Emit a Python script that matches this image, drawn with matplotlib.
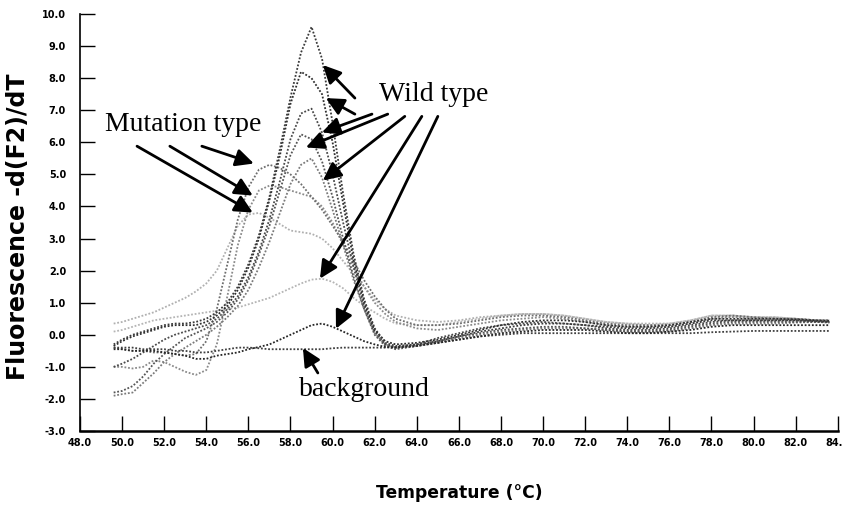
import matplotlib
matplotlib.use("Agg")
import matplotlib.pyplot as plt

# temperature grid (deg C) shared by all melting curves
temps = [49.6, 50.0, 50.5, 51.0, 51.5, 52.0, 52.5, 53.0, 53.5, 54.0,
         54.5, 55.0, 55.5, 56.0, 56.5, 57.0, 57.5, 58.0, 58.5, 59.0,
         59.5, 60.0, 60.5, 61.0, 61.5, 62.0, 62.5, 63.0, 64.0, 65.0,
         66.0, 67.0, 68.0, 69.0, 70.0, 71.0, 72.0, 73.0, 74.0, 75.0,
         76.0, 77.0, 78.0, 79.0, 80.0, 81.0, 82.0, 83.0, 83.6]

# wild type samples
wild_1 = [-0.30, -0.15, 0.00, 0.10, 0.20, 0.30, 0.35, 0.35, 0.40, 0.50,
          0.70, 1.00, 1.50, 2.20, 3.10, 4.30, 5.80, 7.40, 8.80, 9.60,
          8.60, 6.60, 4.40, 2.50, 1.10, 0.20, -0.25, -0.35, -0.30, -0.20,
          -0.05, 0.10, 0.20, 0.30, 0.35, 0.35, 0.30, 0.25, 0.20, 0.20,
          0.25, 0.35, 0.45, 0.45, 0.45, 0.45, 0.45, 0.42, 0.40]
wild_2 = [-0.35, -0.20, -0.05, 0.05, 0.15, 0.25, 0.30, 0.30, 0.30, 0.40,
          0.60, 0.90, 1.40, 2.10, 3.00, 4.20, 5.60, 7.20, 8.20, 8.00,
          7.50, 6.00, 4.10, 2.30, 1.00, 0.15, -0.20, -0.30, -0.25, -0.15,
          0.00, 0.15, 0.30, 0.40, 0.45, 0.45, 0.40, 0.30, 0.25, 0.25,
          0.30, 0.40, 0.50, 0.50, 0.50, 0.50, 0.48, 0.45, 0.43]
wild_3 = [-1.00, -0.90, -0.75, -0.55, -0.35, -0.15, 0.00, 0.10, 0.20, 0.30,
          0.50, 0.80, 1.20, 1.80, 2.60, 3.60, 4.80, 6.10, 6.90, 7.05,
          6.30, 5.00, 3.50, 2.10, 0.90, 0.10, -0.30, -0.40, -0.30, -0.10,
          0.05, 0.20, 0.30, 0.35, 0.40, 0.35, 0.30, 0.20, 0.15, 0.15,
          0.20, 0.30, 0.40, 0.45, 0.45, 0.45, 0.45, 0.42, 0.40]
wild_4 = [-1.80, -1.75, -1.60, -1.30, -0.90, -0.60, -0.35, -0.10, 0.05, 0.20,
          0.40, 0.70, 1.10, 1.70, 2.50, 3.40, 4.50, 5.60, 6.25, 6.10,
          5.40, 4.30, 3.00, 1.80, 0.80, 0.00, -0.35, -0.45, -0.35, -0.20,
          -0.05, 0.05, 0.15, 0.20, 0.25, 0.25, 0.20, 0.15, 0.10, 0.10,
          0.15, 0.25, 0.35, 0.40, 0.40, 0.40, 0.40, 0.40, 0.38]
wild_5 = [-1.90, -1.85, -1.80, -1.50, -1.20, -0.85, -0.60, -0.40, -0.20, 0.00,
          0.25, 0.55, 0.90, 1.40, 2.10, 2.90, 3.80, 4.70, 5.30, 5.50,
          4.90, 3.90, 2.80, 1.70, 0.80, 0.05, -0.30, -0.40, -0.35, -0.25,
          -0.10, 0.00, 0.10, 0.15, 0.20, 0.20, 0.20, 0.15, 0.10, 0.10,
          0.10, 0.20, 0.30, 0.35, 0.35, 0.35, 0.38, 0.40, 0.40]
wild_6 = [0.10, 0.15, 0.25, 0.35, 0.45, 0.50, 0.55, 0.60, 0.65, 0.70,
          0.75, 0.80, 0.85, 0.95, 1.05, 1.15, 1.30, 1.45, 1.60, 1.72,
          1.75, 1.65, 1.45, 1.15, 0.90, 0.70, 0.50, 0.35, 0.30, 0.30,
          0.40, 0.50, 0.60, 0.65, 0.65, 0.60, 0.50, 0.40, 0.35, 0.30,
          0.35, 0.45, 0.60, 0.60, 0.55, 0.55, 0.50, 0.45, 0.45]
wild_7 = [-0.45, -0.45, -0.50, -0.50, -0.50, -0.55, -0.60, -0.65, -0.75, -0.75,
          -0.65, -0.60, -0.55, -0.45, -0.38, -0.30, -0.15, 0.00, 0.15, 0.30,
          0.35, 0.25, 0.10, -0.05, -0.20, -0.30, -0.38, -0.40, -0.35, -0.25,
          -0.15, -0.05, 0.05, 0.10, 0.15, 0.15, 0.15, 0.10, 0.05, 0.05,
          0.10, 0.15, 0.25, 0.30, 0.30, 0.30, 0.30, 0.30, 0.30]

# mutation type samples
mut_1 = [-0.40, -0.45, -0.50, -0.50, -0.55, -0.55, -0.60, -0.65, -0.60, -0.20,
         0.80, 2.20, 3.60, 4.60, 5.15, 5.30, 5.20, 5.00, 4.70, 4.30,
         3.90, 3.40, 2.90, 2.30, 1.70, 1.20, 0.80, 0.50, 0.30, 0.30,
         0.35, 0.45, 0.55, 0.60, 0.60, 0.55, 0.45, 0.35, 0.30, 0.30,
         0.30, 0.40, 0.55, 0.60, 0.55, 0.50, 0.50, 0.45, 0.45]
mut_2 = [-1.00, -1.00, -1.05, -1.00, -0.80, -0.85, -1.00, -1.15, -1.25, -1.10,
         -0.30, 1.20, 2.80, 3.90, 4.50, 4.65, 4.60, 4.50, 4.40, 4.30,
         4.00, 3.50, 2.80, 2.10, 1.50, 1.00, 0.65, 0.40, 0.20, 0.15,
         0.25, 0.35, 0.45, 0.50, 0.55, 0.50, 0.40, 0.30, 0.25, 0.25,
         0.25, 0.35, 0.50, 0.55, 0.50, 0.50, 0.50, 0.45, 0.45]
mut_3 = [0.35, 0.40, 0.50, 0.60, 0.70, 0.85, 1.00, 1.15, 1.35, 1.60,
         2.00, 2.70, 3.40, 3.75, 3.80, 3.65, 3.45, 3.25, 3.20, 3.15,
         3.00, 2.70, 2.30, 1.90, 1.50, 1.10, 0.80, 0.60, 0.45, 0.40,
         0.45, 0.55, 0.60, 0.65, 0.65, 0.60, 0.50, 0.40, 0.35, 0.35,
         0.35, 0.45, 0.60, 0.60, 0.55, 0.55, 0.50, 0.45, 0.45]

# no-template background
background = [-0.40, -0.40, -0.40, -0.45, -0.45, -0.45, -0.50, -0.50, -0.55, -0.55,
              -0.50, -0.45, -0.40, -0.40, -0.42, -0.45, -0.45, -0.45, -0.45, -0.45,
              -0.45, -0.42, -0.40, -0.40, -0.40, -0.40, -0.40, -0.38, -0.32, -0.25,
              -0.15, -0.05, 0.00, 0.05, 0.05, 0.05, 0.05, 0.05, 0.05, 0.05,
              0.05, 0.05, 0.08, 0.10, 0.12, 0.12, 0.12, 0.12, 0.12]

x_ticks = list(range(48, 86, 2))
y_ticks = list(range(-3, 11))

curves = [
    (mut_3, "#b0b0b0"),
    (wild_6, "#b5b5b5"),
    (mut_2, "#8a8a8a"),
    (mut_1, "#6e6e6e"),
    (wild_5, "#7a7a7a"),
    (wild_4, "#555555"),
    (wild_3, "#4a4a4a"),
    (wild_2, "#2e2e2e"),
    (wild_1, "#3a3a3a"),
    (background, "#404040"),
    (wild_7, "#262626"),
]


def plot_melt():
    fig = plt.figure(figsize=(8.42, 5.05), dpi=100)
    ax = fig.add_axes([0.095, 0.1465, 0.9, 0.8257])

    for values, color in curves:
        ax.plot(temps, values, color=color, lw=1.3, linestyle=(0, (1, 1)))

    ax.set_xlim(48, 84)
    ax.set_ylim(-3, 10)
    ax.set_xticks(x_ticks)
    ax.set_yticks(y_ticks)
    ax.set_xticklabels(["%.1f" % t for t in x_ticks], fontsize=7, fontweight="bold")
    ax.set_yticklabels(["%.1f" % t for t in y_ticks], fontsize=7, fontweight="bold")
    ax.tick_params(axis="x", direction="in", length=11, width=1.0, pad=5)
    ax.tick_params(axis="y", direction="in", length=11, width=1.0, pad=10)

    for side in ["top", "right"]:
        ax.spines[side].set_visible(False)
    ax.spines["left"].set_linewidth(1.2)
    ax.spines["bottom"].set_linewidth(1.8)

    ax.set_xlabel("Temperature (°C)", fontsize=12.3, fontweight="bold", labelpad=26)
    ax.set_ylabel("Fluorescence -d(F2)/dT", fontsize=17, fontweight="bold")
    ax.yaxis.set_label_coords(-0.066, 0.49)

    arrow = dict(arrowstyle="-|>,head_length=0.45,head_width=0.22",
                 color="black", lw=2, mutation_scale=24, shrinkA=0, shrinkB=0)
    serif = dict(family="Liberation Serif", fontsize=20)

    # wild type
    ax.text(64.8, 7.5, "Wild type", ha="center", va="center", **serif)
    wild_arrows = [((61.06, 7.38), (59.54, 8.41)),
                   ((61.06, 6.88), (59.68, 7.38)),
                   ((61.87, 6.88), (59.49, 6.31)),
                   ((62.62, 6.88), (58.73, 5.84)),
                   ((63.43, 6.81), (59.54, 4.81)),
                   ((64.24, 6.81), (59.40, 1.75)),
                   ((65.00, 6.81), (60.16, 0.19))]
    for start, tip in wild_arrows:
        ax.annotate("", xy=tip, xytext=start, arrowprops=arrow)

    # mutation type
    ax.text(52.9, 6.55, "Mutation type", ha="center", va="center", **serif)
    mut_arrows = [((53.79, 5.88), (56.26, 5.34)),
                  ((52.27, 5.88), (56.21, 4.34)),
                  ((50.71, 5.88), (56.21, 3.81))]
    for start, tip in mut_arrows:
        ax.annotate("", xy=tip, xytext=start, arrowprops=arrow)

    # background
    ax.text(61.5, -1.7, "background", ha="center", va="center", **serif)
    ax.annotate("", xy=(58.59, -0.41), xytext=(59.30, -1.19), arrowprops=arrow)

    plt.savefig("out.png", dpi=100)
    plt.clf()


if __name__ == "__main__":
    plot_melt()
